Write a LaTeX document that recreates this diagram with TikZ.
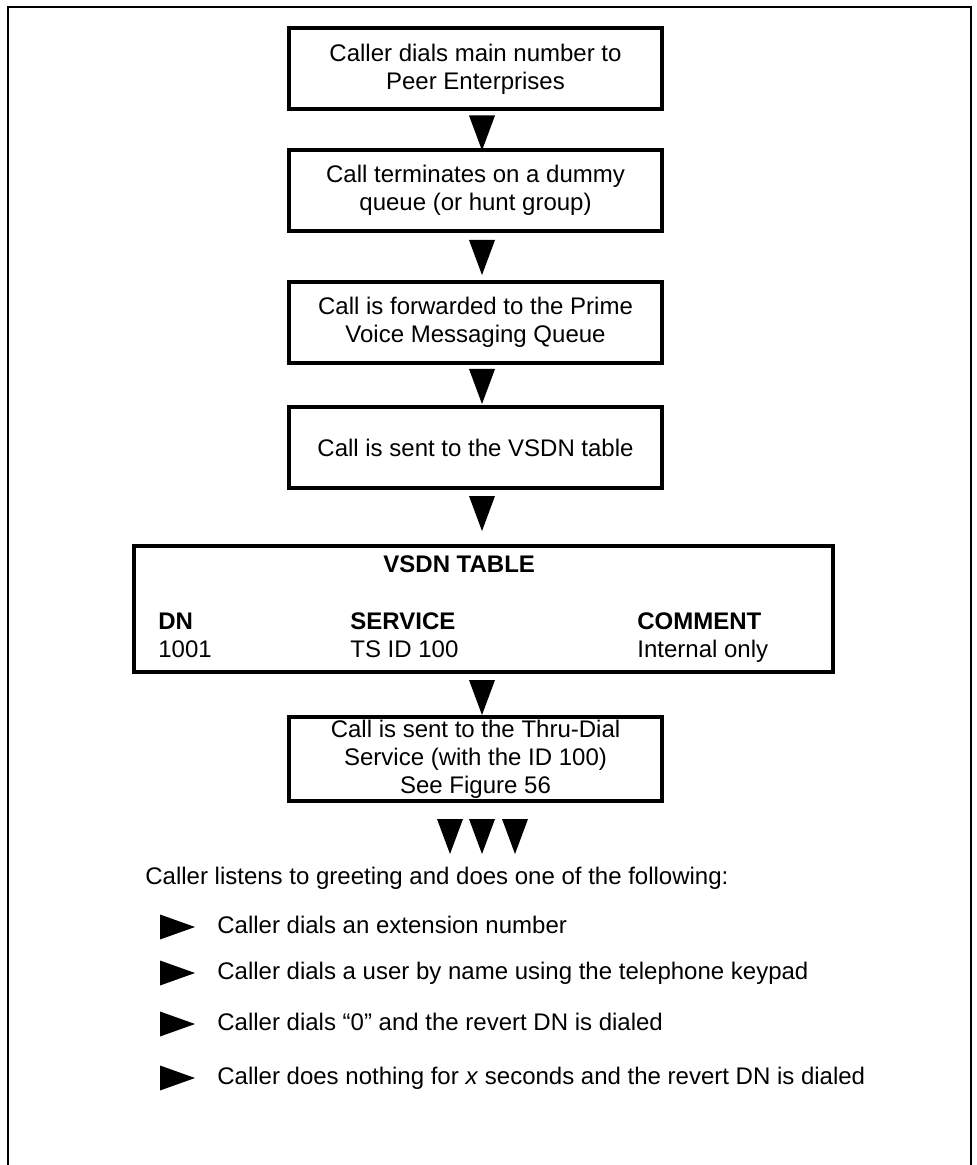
\documentclass[tikz,border=0pt]{standalone}
\usepackage{fontspec}
\setmainfont{Liberation Sans}
\usetikzlibrary{calc}

% boxes of the call flow
\tikzset{
    flowbox/.style={draw, line width=2pt, minimum width=186.5pt, minimum height=40.5pt,
        inner sep=0pt, align=center, font=\fontsize{12}{14}\selectfont},
    plaintext/.style={inner sep=0pt, anchor=west, text height=8.6pt, text depth=2.5pt,
        font=\fontsize{12}{14}\selectfont},
    headtext/.style={plaintext, font=\fontsize{12}{14}\selectfont\bfseries}
}
\newcommand{\downtri}[1]{\fill ($#1+(-13,0)$) -- ++(26,0) -- ++(-13,35) -- cycle;}
\newcommand{\righttri}[1]{\fill ($#1+(-57,-12.5)$) -- ++(35,12.5) -- ++(-35,12.5) -- cycle;}

\begin{document}
\begin{tikzpicture}[x=0.5pt, y=-0.5pt]
                \useasboundingbox (0,0) rectangle (976,1165);
                \draw[line width=0.75pt] (8,1165) -- (8,7) -- (971,7) -- (971,1165);

                \node[flowbox] (dial) at (475.5,69) {Caller dials main number to\\Peer Enterprises};
                \node[flowbox] (dummy) at (475.5,190.5) {Call terminates on a dummy\\queue (or hunt group)};
                \node[flowbox] (prime) at (475.5,322.5) {Call is forwarded to the Prime\\Voice Messaging Queue};
                \node[flowbox] (sent) at (475.5,447.5) {Call is sent to the VSDN table};
                \node[flowbox, minimum width=349.5pt, minimum height=63pt] (vsdn) at (483.5,609) {};
                \node[flowbox, minimum height=42pt] (thru) at (475.5,759) {Call is sent to the Thru-Dial\\Service (with the ID 100)\\See Figure 56};

                % table contents
                \node[headtext] (title) at (383,566) {VSDN TABLE};
                \node[headtext] (dn) at (158,623) {DN};
                \node[headtext] (service) at (350,623) {SERVICE};
                \node[headtext] (comment) at (637,623) {COMMENT};
                \node[plaintext] (dnval) at (158,651) {1001};
                \node[plaintext] (serviceval) at (350,651) {TS ID 100};
                \node[plaintext] (commentval) at (637,651) {Internal only};

                \downtri{(dial.south)+(6.5,4)}
                \downtri{(dummy.south)+(6.5,7)}
                \downtri{(prime.south)+(6.5,4)}
                \downtri{(sent.south)+(6.5,6)}
                \downtri{(vsdn.south)+(-1.5,6)}
                \downtri{(thru.south)+(-25.5,16)}
                \downtri{(thru.south)+(6.5,16)}
                \downtri{(thru.south)+(39.5,16)}

                \node[plaintext] (listen) at (145,878) {Caller listens to greeting and does one of the following:};
                \node[plaintext] (ext) at (217,927) {Caller dials an extension number};
                \node[plaintext] (byname) at (217,973) {Caller dials a user by name using the telephone keypad};
                \node[plaintext] (zero) at (217,1024) {Caller dials “0” and the revert DN is dialed};
                \node[plaintext] (nothing) at (217,1078) {Caller does nothing for \textit{x} seconds and the revert DN is dialed};
                \righttri{(ext.west)}
                \righttri{(byname.west)}
                \righttri{(zero.west)}
                \righttri{(nothing.west)}
\end{tikzpicture}
\end{document}
